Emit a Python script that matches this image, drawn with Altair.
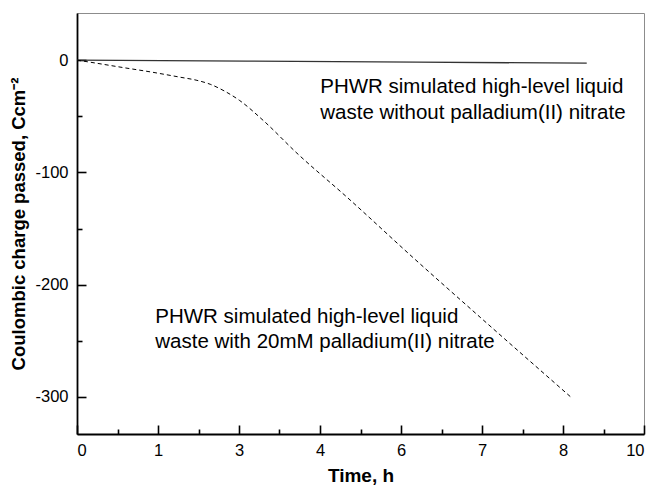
import json
import altair as alt
import pandas as pd

# ---- data (x in axis units 0..10 of the drawn scale) ----
solid_x = [0.0, 3.0, 6.0, 8.99]
solid_y = [0.0, -0.8, -1.8, -2.7]

dashed_x = [0.0, 0.23, 0.8, 1.3, 1.82, 2.1, 2.35, 2.6, 2.87, 3.28, 3.88, 4.76, 5.93, 7.11, 8.73]
dashed_y = [0.0, -1.8, -6.5, -10.5, -15.2, -17.8, -21.5, -27.5, -36.0, -53.5, -82.9, -122.0, -176.0, -229.0, -301.0]

ann_x = [4.29, 4.29, 1.38, 1.38]
ann_y = [-24.0, -47.0, -229.0, -251.0]
ann_text = [
    "PHWR simulated high-level liquid",
    "waste without palladium(II) nitrate",
    "PHWR simulated high-level liquid",
    "waste with 20mM palladium(II) nitrate",
]

x_tick_labels = ["0", "1", "3", "4", "6", "7", "8", "10"]
y_major = [0, -100, -200, -300]
y_minor = [-50, -150, -250]

X_DOMAIN = [0, 10]
Y_DOMAIN = [-333, 42]

W, H = 567, 421
FONT = "Liberation Sans"

n = len(x_tick_labels)
x_major = [i * 10 / (n - 1) for i in range(n)]
x_minor = [(x_major[i] + x_major[i + 1]) / 2 for i in range(n - 1)]

label_expr = json.dumps(x_tick_labels) + "[round(datum.value*" + str((n - 1) / 10) + ")]"

solid_df = pd.DataFrame({"t": solid_x, "q": solid_y})
dashed_df = pd.DataFrame({"t": dashed_x, "q": dashed_y})
ann_df = pd.DataFrame({"t": ann_x, "q": ann_y, "label": ann_text})

xs = alt.Scale(domain=X_DOMAIN, nice=False, zero=False)
ys = alt.Scale(domain=Y_DOMAIN, nice=False, zero=False)

# layer 1: solid line + labelled axes (left / bottom)
solid = alt.Chart(solid_df).mark_line(color="#333333", strokeWidth=1.3).encode(
    x=alt.X("t:Q", scale=xs, axis=alt.Axis(
        orient="bottom", values=x_major, labelExpr=label_expr, tickSize=0,
        labelPadding=8, labelFontSize=16.5, labelFont=FONT, labelColor="black",
        domainColor="black", domainWidth=1.8,
        title="Time, h", titleFont=FONT, titleFontSize=19, titleFontWeight="bold",
        titleColor="black", titlePadding=8)),
    y=alt.Y("q:Q", scale=ys, axis=alt.Axis(
        orient="left", values=y_major, tickSize=0, labelPadding=9,
        labelExpr="'' + datum.value",
        labelFontSize=16.5, labelFont=FONT, labelColor="black",
        domainColor="black", domainWidth=1.8,
        title="Coulombic charge passed, Ccm\u207b\u00b2", titleFont=FONT, titleFontSize=18.5,
        titleFontWeight="bold", titleColor="black", titlePadding=6)),
)

# layer 2: dashed line + inward major ticks
dashed = alt.Chart(dashed_df).mark_line(
    color="black", strokeWidth=1, strokeDash=[4, 3], interpolate="monotone"
).encode(
    x=alt.X("t:Q", scale=xs, axis=alt.Axis(
        orient="top", offset=-H, values=x_major, tickSize=9, tickWidth=1.6,
        tickColor="black", labels=False, domain=False, title=None)),
    y=alt.Y("q:Q", scale=ys, axis=alt.Axis(
        orient="right", offset=-W, values=y_major, tickSize=9, tickWidth=1.6,
        tickColor="black", labels=False, domain=False, title=None)),
)

# layer 3: annotations + inward minor ticks
ann = alt.Chart(ann_df).mark_text(
    align="left", baseline="middle", font=FONT, fontSize=20.5, color="black"
).encode(
    x=alt.X("t:Q", scale=xs, axis=alt.Axis(
        orient="top", offset=-H, values=x_minor, tickSize=5, tickWidth=1.6,
        tickColor="black", labels=False, domain=False, title=None)),
    y=alt.Y("q:Q", scale=ys, axis=alt.Axis(
        orient="right", offset=-W, values=y_minor, tickSize=5, tickWidth=1.6,
        tickColor="black", labels=False, domain=False, title=None)),
    text="label:N",
)

chart = (
    alt.layer(solid, dashed, ann)
    .resolve_axis(x="independent", y="independent")
    .properties(
        width=W, height=H,
        autosize=alt.AutoSizeParams(type="none"),
        padding={"left": 77, "top": 13, "right": 10, "bottom": 53},
        background="white",
    )
    .configure_axis(grid=False)
    .configure_view(stroke="#8c8c8c", strokeWidth=1)
)

chart.save("out.html", embed_options={"renderer": "svg", "actions": False})
